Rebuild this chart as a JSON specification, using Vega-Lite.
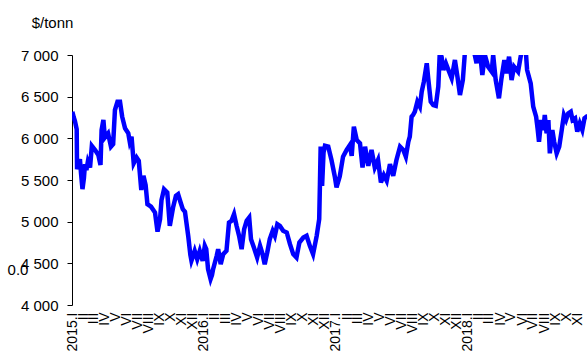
{
  "$schema": "https://vega.github.io/schema/vega-lite/v6.json",
  "autosize": {"type": "none"},
  "padding": {"left": 72, "top": 55, "right": 0, "bottom": 51},
  "width": 515,
  "height": 250,
  "background": "white",
  "config": {"view": {"stroke": null}, "font": "Liberation Sans"},
  "layer": [
    {
      "data": {"values": [
        {"d": "2015-01-02", "p": 6320}, {"d": "2015-01-06", "p": 6250}, {"d": "2015-01-09", "p": 6210}, {"d": "2015-01-14", "p": 6110},
        {"d": "2015-01-15", "p": 5630}, {"d": "2015-01-19", "p": 5700}, {"d": "2015-01-23", "p": 5750}, {"d": "2015-01-26", "p": 5580},
        {"d": "2015-01-30", "p": 5390}, {"d": "2015-02-03", "p": 5520}, {"d": "2015-02-06", "p": 5690}, {"d": "2015-02-10", "p": 5620},
        {"d": "2015-02-14", "p": 5720}, {"d": "2015-02-20", "p": 5650}, {"d": "2015-02-25", "p": 5910}, {"d": "2015-03-06", "p": 5860},
        {"d": "2015-03-15", "p": 5800}, {"d": "2015-03-21", "p": 5680}, {"d": "2015-03-24", "p": 6100}, {"d": "2015-03-29", "p": 6220},
        {"d": "2015-04-02", "p": 6010}, {"d": "2015-04-11", "p": 6060}, {"d": "2015-04-19", "p": 5900}, {"d": "2015-04-25", "p": 5930},
        {"d": "2015-04-30", "p": 6340}, {"d": "2015-05-07", "p": 6440}, {"d": "2015-05-14", "p": 6440}, {"d": "2015-05-20", "p": 6260},
        {"d": "2015-05-28", "p": 6120}, {"d": "2015-06-06", "p": 6060}, {"d": "2015-06-10", "p": 5960}, {"d": "2015-06-15", "p": 6020},
        {"d": "2015-06-21", "p": 5700}, {"d": "2015-06-29", "p": 5770}, {"d": "2015-07-05", "p": 5730}, {"d": "2015-07-12", "p": 5380},
        {"d": "2015-07-18", "p": 5550}, {"d": "2015-07-24", "p": 5440}, {"d": "2015-07-29", "p": 5210}, {"d": "2015-08-08", "p": 5180},
        {"d": "2015-08-19", "p": 5110}, {"d": "2015-08-26", "p": 4880}, {"d": "2015-09-02", "p": 5030}, {"d": "2015-09-06", "p": 5260},
        {"d": "2015-09-13", "p": 5390}, {"d": "2015-09-22", "p": 5350}, {"d": "2015-09-29", "p": 4950}, {"d": "2015-10-08", "p": 5170},
        {"d": "2015-10-16", "p": 5310}, {"d": "2015-10-22", "p": 5330}, {"d": "2015-10-29", "p": 5230}, {"d": "2015-11-04", "p": 5150},
        {"d": "2015-11-10", "p": 5120}, {"d": "2015-11-19", "p": 4830}, {"d": "2015-11-25", "p": 4600}, {"d": "2015-11-28", "p": 4530},
        {"d": "2015-12-02", "p": 4580}, {"d": "2015-12-07", "p": 4650}, {"d": "2015-12-14", "p": 4550}, {"d": "2015-12-21", "p": 4650},
        {"d": "2015-12-29", "p": 4530},
        {"d": "2016-01-04", "p": 4710}, {"d": "2016-01-08", "p": 4670}, {"d": "2016-01-13", "p": 4430}, {"d": "2016-01-20", "p": 4310},
        {"d": "2016-01-24", "p": 4360}, {"d": "2016-01-27", "p": 4430}, {"d": "2016-02-06", "p": 4590}, {"d": "2016-02-10", "p": 4670},
        {"d": "2016-02-17", "p": 4490}, {"d": "2016-02-24", "p": 4610}, {"d": "2016-03-04", "p": 4650}, {"d": "2016-03-11", "p": 4990},
        {"d": "2016-03-18", "p": 5010}, {"d": "2016-03-25", "p": 5090}, {"d": "2016-04-01", "p": 4950}, {"d": "2016-04-08", "p": 4830},
        {"d": "2016-04-15", "p": 4670}, {"d": "2016-04-22", "p": 4910}, {"d": "2016-04-29", "p": 5010}, {"d": "2016-05-06", "p": 5050},
        {"d": "2016-05-11", "p": 4790}, {"d": "2016-05-19", "p": 4690}, {"d": "2016-05-28", "p": 4570}, {"d": "2016-06-05", "p": 4710},
        {"d": "2016-06-12", "p": 4610}, {"d": "2016-06-18", "p": 4490}, {"d": "2016-06-25", "p": 4630}, {"d": "2016-07-02", "p": 4790},
        {"d": "2016-07-10", "p": 4890}, {"d": "2016-07-16", "p": 4830}, {"d": "2016-07-23", "p": 4970}, {"d": "2016-07-30", "p": 4950},
        {"d": "2016-08-08", "p": 4890}, {"d": "2016-08-18", "p": 4870}, {"d": "2016-08-27", "p": 4730}, {"d": "2016-09-05", "p": 4610},
        {"d": "2016-09-14", "p": 4570}, {"d": "2016-09-22", "p": 4750}, {"d": "2016-10-03", "p": 4810}, {"d": "2016-10-12", "p": 4830},
        {"d": "2016-10-21", "p": 4710}, {"d": "2016-10-30", "p": 4610}, {"d": "2016-11-09", "p": 4830}, {"d": "2016-11-16", "p": 5030},
        {"d": "2016-11-18", "p": 5450}, {"d": "2016-11-20", "p": 5900}, {"d": "2016-11-24", "p": 5430}, {"d": "2016-11-28", "p": 5830},
        {"d": "2016-12-02", "p": 5910}, {"d": "2016-12-11", "p": 5900}, {"d": "2016-12-20", "p": 5740}, {"d": "2016-12-29", "p": 5545},
        {"d": "2017-01-03", "p": 5410}, {"d": "2017-01-12", "p": 5545}, {"d": "2017-01-21", "p": 5780}, {"d": "2017-01-31", "p": 5860},
        {"d": "2017-02-09", "p": 5920}, {"d": "2017-02-14", "p": 5790}, {"d": "2017-02-20", "p": 6140}, {"d": "2017-02-28", "p": 5980},
        {"d": "2017-03-09", "p": 5940}, {"d": "2017-03-16", "p": 5650}, {"d": "2017-03-23", "p": 5900}, {"d": "2017-04-01", "p": 5670},
        {"d": "2017-04-10", "p": 5860}, {"d": "2017-04-19", "p": 5650}, {"d": "2017-04-28", "p": 5740}, {"d": "2017-05-06", "p": 5470},
        {"d": "2017-05-14", "p": 5560}, {"d": "2017-05-22", "p": 5490}, {"d": "2017-05-31", "p": 5690}, {"d": "2017-06-09", "p": 5550},
        {"d": "2017-06-18", "p": 5740}, {"d": "2017-06-28", "p": 5900}, {"d": "2017-07-07", "p": 5860}, {"d": "2017-07-14", "p": 5780},
        {"d": "2017-07-21", "p": 5960}, {"d": "2017-07-25", "p": 6020}, {"d": "2017-07-30", "p": 6260}, {"d": "2017-08-03", "p": 6280},
        {"d": "2017-08-08", "p": 6320}, {"d": "2017-08-15", "p": 6440}, {"d": "2017-08-22", "p": 6380}, {"d": "2017-08-27", "p": 6560},
        {"d": "2017-09-02", "p": 6680}, {"d": "2017-09-10", "p": 6900}, {"d": "2017-09-14", "p": 6720}, {"d": "2017-09-21", "p": 6440},
        {"d": "2017-09-28", "p": 6400}, {"d": "2017-10-05", "p": 6390}, {"d": "2017-10-12", "p": 6620}, {"d": "2017-10-16", "p": 7020},
        {"d": "2017-10-21", "p": 6980}, {"d": "2017-10-26", "p": 6820}, {"d": "2017-11-02", "p": 6900}, {"d": "2017-11-09", "p": 6820},
        {"d": "2017-11-18", "p": 6720}, {"d": "2017-11-27", "p": 6940}, {"d": "2017-12-04", "p": 6740}, {"d": "2017-12-11", "p": 6520},
        {"d": "2017-12-19", "p": 6700}, {"d": "2017-12-25", "p": 7050}, {"d": "2017-12-29", "p": 7200},
        {"d": "2018-01-04", "p": 7240}, {"d": "2018-01-10", "p": 7120}, {"d": "2018-01-16", "p": 7180}, {"d": "2018-01-21", "p": 7000},
        {"d": "2018-01-26", "p": 6900}, {"d": "2018-01-30", "p": 7100}, {"d": "2018-02-04", "p": 7050}, {"d": "2018-02-11", "p": 6760},
        {"d": "2018-02-18", "p": 7000}, {"d": "2018-02-27", "p": 6860}, {"d": "2018-03-09", "p": 6800}, {"d": "2018-03-13", "p": 7000},
        {"d": "2018-03-20", "p": 6700}, {"d": "2018-03-29", "p": 6480}, {"d": "2018-04-05", "p": 6720}, {"d": "2018-04-13", "p": 6940},
        {"d": "2018-04-19", "p": 6780}, {"d": "2018-04-26", "p": 6980}, {"d": "2018-05-03", "p": 6700}, {"d": "2018-05-10", "p": 6860},
        {"d": "2018-05-21", "p": 6800}, {"d": "2018-05-29", "p": 7000}, {"d": "2018-06-03", "p": 7150}, {"d": "2018-06-09", "p": 7200},
        {"d": "2018-06-15", "p": 6820}, {"d": "2018-06-25", "p": 6660}, {"d": "2018-07-02", "p": 6380}, {"d": "2018-07-10", "p": 6260},
        {"d": "2018-07-14", "p": 6120}, {"d": "2018-07-18", "p": 5960}, {"d": "2018-07-24", "p": 6220}, {"d": "2018-07-30", "p": 6100},
        {"d": "2018-08-03", "p": 6280}, {"d": "2018-08-08", "p": 6060}, {"d": "2018-08-13", "p": 6220}, {"d": "2018-08-17", "p": 5820},
        {"d": "2018-08-24", "p": 6100}, {"d": "2018-08-29", "p": 5960}, {"d": "2018-09-05", "p": 5820}, {"d": "2018-09-12", "p": 5900},
        {"d": "2018-09-19", "p": 6100}, {"d": "2018-09-25", "p": 6280}, {"d": "2018-10-01", "p": 6220}, {"d": "2018-10-07", "p": 6300},
        {"d": "2018-10-14", "p": 6320}, {"d": "2018-10-19", "p": 6220}, {"d": "2018-10-26", "p": 6240}, {"d": "2018-11-01", "p": 6080},
        {"d": "2018-11-08", "p": 6180}, {"d": "2018-11-15", "p": 6100}, {"d": "2018-11-21", "p": 6240}, {"d": "2018-11-27", "p": 6260},
        {"d": "2018-12-03", "p": 6250}
      ]},
      "mark": {"type": "line", "color": "#0000FF", "strokeWidth": 4.5, "clip": true, "strokeJoin": "miter"},
      "encoding": {
        "x": {
          "field": "d", "type": "temporal",
          "scale": {"domain": ["2015-01-01", "2018-11-28"]},
          "axis": {
            "title": null, "domain": false, "ticks": false, "grid": false,
            "tickCount": {"interval": "month", "step": 1},
            "labelExpr": "(month(datum.value) == 0 ? year(datum.value) + '.' : '') + ['I','II','III','IV','V','VI','VII','VIII','IX','X','XI','XII'][month(datum.value)]",
            "labelAngle": -90, "labelFontSize": 14, "labelColor": "black", "labelPadding": 7,
            "labelOverlap": false, "labelFlush": false, "labelBound": false, "labelFont": "Liberation Sans"
          }
        },
        "y": {
          "field": "p", "type": "quantitative",
          "scale": {"domain": [4000, 7000], "nice": false, "zero": false},
          "axis": {
            "title": "$/tonn", "titleAngle": 0, "titleAlign": "center", "titleBaseline": "alphabetic",
            "titleX": -20, "titleY": -28, "titleFontSize": 15, "titleFontWeight": "normal", "titleColor": "black", "titleFont": "Liberation Sans",
            "values": [4000, 4500, 5000, 5500, 6000, 6500, 7000],
            "labelExpr": "replace(format(datum.value, ','), ',', ' ')",
            "grid": false, "domainColor": "black", "tickColor": "black", "tickSize": 5, "labelPadding": 9,
            "labelFontSize": 15, "labelColor": "black", "labelFont": "Liberation Sans", "labelOverlap": false, "labelFlush": false
          }
        }
      }
    },
    {
      "data": {"values": [{"label": "0.0"}]},
      "mark": {"type": "text", "fontSize": 15, "font": "Liberation Sans", "color": "black", "dx": -54, "align": "center", "baseline": "middle"},
      "encoding": {
        "text": {"field": "label"},
        "x": {"datum": {"year": 2015, "month": 1, "date": 1}, "type": "temporal"},
        "y": {"datum": 4420, "type": "quantitative"}
      }
    }
  ]
}
